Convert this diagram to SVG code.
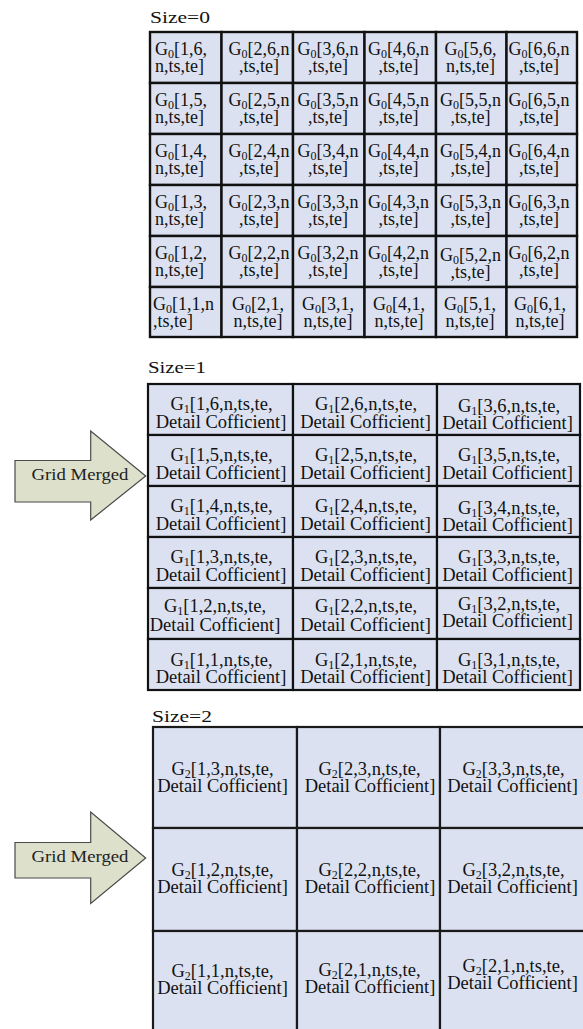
<svg xmlns="http://www.w3.org/2000/svg" width="583" height="1029" viewBox="0 0 583 1029">
  <style>
    .bg { fill: #ffffff; }
    .cell { fill: #dbe1f0; stroke: #111111; stroke-width: 2.4; }
    .cell1 { fill: #dbe1f0; stroke: #111111; stroke-width: 2.2; }
    .cell2 { fill: #dbe1f0; stroke: #1a1a1a; stroke-width: 2.2; }
    .t { font-family: "Liberation Serif", "Times New Roman", serif; font-size: 18px; fill: #111111; }
    .t1 { font-family: "Liberation Serif", "Times New Roman", serif; font-size: 18.5px; fill: #111111; text-anchor: middle; }
    .m { text-anchor: middle; }
    .sub { font-size: 12px; }
    .lbl { font-family: "Liberation Serif", "Times New Roman", serif; font-size: 17px; fill: #111111; }
    .arrow { fill: #dde0cb; stroke: #4a4a4a; stroke-width: 1.2; stroke-linejoin: miter; }
    .atxt { font-family: "Liberation Serif", "Times New Roman", serif; font-size: 16.5px; fill: #222222; }
  </style>
  <rect class="bg" x="0" y="0" width="583" height="1029"/>

  <!-- level 0 grid: 6 x 6 cells -->
  <text class="lbl" x="150" y="22.7" textLength="60" lengthAdjust="spacingAndGlyphs">Size=0</text>
  <g id="grid0">
    <g id="g0-r6">
      <rect class="cell" x="150" y="32" width="71.5" height="51"/>
      <rect class="cell" x="221.5" y="32" width="71.5" height="51"/>
      <rect class="cell" x="293" y="32" width="71.5" height="51"/>
      <rect class="cell" x="364.5" y="32" width="71.5" height="51"/>
      <rect class="cell" x="436" y="32" width="70.5" height="51"/>
      <rect class="cell" x="506.5" y="32" width="70.5" height="51"/>
      <text class="t" x="155" y="55">G<tspan class="sub" dy="3">0</tspan><tspan dy="-3">[1,6,</tspan><tspan x="155" dy="16.5">n,ts,te]</tspan></text>
      <text class="t m" x="259" y="55">G<tspan class="sub" dy="3">0</tspan><tspan dy="-3">[2,6,n</tspan><tspan x="259" dy="16.5">,ts,te]</tspan></text>
      <text class="t m" x="328" y="55">G<tspan class="sub" dy="3">0</tspan><tspan dy="-3">[3,6,n</tspan><tspan x="328" dy="16.5">,ts,te]</tspan></text>
      <text class="t m" x="398.5" y="55">G<tspan class="sub" dy="3">0</tspan><tspan dy="-3">[4,6,n</tspan><tspan x="398.5" dy="16.5">,ts,te]</tspan></text>
      <text class="t m" x="470.5" y="55">G<tspan class="sub" dy="3">0</tspan><tspan dy="-3">[5,6,</tspan><tspan x="470.5" dy="16.5">n,ts,te]</tspan></text>
      <text class="t m" x="539" y="55">G<tspan class="sub" dy="3">0</tspan><tspan dy="-3">[6,6,n</tspan><tspan x="539" dy="16.5">,ts,te]</tspan></text>
    </g>
    <g id="g0-r5">
      <rect class="cell" x="150" y="83" width="71.5" height="51"/>
      <rect class="cell" x="221.5" y="83" width="71.5" height="51"/>
      <rect class="cell" x="293" y="83" width="71.5" height="51"/>
      <rect class="cell" x="364.5" y="83" width="71.5" height="51"/>
      <rect class="cell" x="436" y="83" width="70.5" height="51"/>
      <rect class="cell" x="506.5" y="83" width="70.5" height="51"/>
      <text class="t" x="155" y="106">G<tspan class="sub" dy="3">0</tspan><tspan dy="-3">[1,5,</tspan><tspan x="155" dy="16.5">n,ts,te]</tspan></text>
      <text class="t m" x="259" y="106">G<tspan class="sub" dy="3">0</tspan><tspan dy="-3">[2,5,n</tspan><tspan x="259" dy="16.5">,ts,te]</tspan></text>
      <text class="t m" x="328" y="106">G<tspan class="sub" dy="3">0</tspan><tspan dy="-3">[3,5,n</tspan><tspan x="328" dy="16.5">,ts,te]</tspan></text>
      <text class="t m" x="398.5" y="106">G<tspan class="sub" dy="3">0</tspan><tspan dy="-3">[4,5,n</tspan><tspan x="398.5" dy="16.5">,ts,te]</tspan></text>
      <text class="t m" x="470.5" y="106">G<tspan class="sub" dy="3">0</tspan><tspan dy="-3">[5,5,n</tspan><tspan x="470.5" dy="16.5">,ts,te]</tspan></text>
      <text class="t m" x="539" y="106">G<tspan class="sub" dy="3">0</tspan><tspan dy="-3">[6,5,n</tspan><tspan x="539" dy="16.5">,ts,te]</tspan></text>
    </g>
    <g id="g0-r4">
      <rect class="cell" x="150" y="134" width="71.5" height="51"/>
      <rect class="cell" x="221.5" y="134" width="71.5" height="51"/>
      <rect class="cell" x="293" y="134" width="71.5" height="51"/>
      <rect class="cell" x="364.5" y="134" width="71.5" height="51"/>
      <rect class="cell" x="436" y="134" width="70.5" height="51"/>
      <rect class="cell" x="506.5" y="134" width="70.5" height="51"/>
      <text class="t" x="155" y="157">G<tspan class="sub" dy="3">0</tspan><tspan dy="-3">[1,4,</tspan><tspan x="155" dy="16.5">n,ts,te]</tspan></text>
      <text class="t m" x="259" y="157">G<tspan class="sub" dy="3">0</tspan><tspan dy="-3">[2,4,n</tspan><tspan x="259" dy="16.5">,ts,te]</tspan></text>
      <text class="t m" x="328" y="157">G<tspan class="sub" dy="3">0</tspan><tspan dy="-3">[3,4,n</tspan><tspan x="328" dy="16.5">,ts,te]</tspan></text>
      <text class="t m" x="398.5" y="157">G<tspan class="sub" dy="3">0</tspan><tspan dy="-3">[4,4,n</tspan><tspan x="398.5" dy="16.5">,ts,te]</tspan></text>
      <text class="t m" x="470.5" y="157">G<tspan class="sub" dy="3">0</tspan><tspan dy="-3">[5,4,n</tspan><tspan x="470.5" dy="16.5">,ts,te]</tspan></text>
      <text class="t m" x="539" y="157">G<tspan class="sub" dy="3">0</tspan><tspan dy="-3">[6,4,n</tspan><tspan x="539" dy="16.5">,ts,te]</tspan></text>
    </g>
    <g id="g0-r3">
      <rect class="cell" x="150" y="185" width="71.5" height="51"/>
      <rect class="cell" x="221.5" y="185" width="71.5" height="51"/>
      <rect class="cell" x="293" y="185" width="71.5" height="51"/>
      <rect class="cell" x="364.5" y="185" width="71.5" height="51"/>
      <rect class="cell" x="436" y="185" width="70.5" height="51"/>
      <rect class="cell" x="506.5" y="185" width="70.5" height="51"/>
      <text class="t" x="155" y="208">G<tspan class="sub" dy="3">0</tspan><tspan dy="-3">[1,3,</tspan><tspan x="155" dy="16.5">n,ts,te]</tspan></text>
      <text class="t m" x="259" y="208">G<tspan class="sub" dy="3">0</tspan><tspan dy="-3">[2,3,n</tspan><tspan x="259" dy="16.5">,ts,te]</tspan></text>
      <text class="t m" x="328" y="208">G<tspan class="sub" dy="3">0</tspan><tspan dy="-3">[3,3,n</tspan><tspan x="328" dy="16.5">,ts,te]</tspan></text>
      <text class="t m" x="398.5" y="208">G<tspan class="sub" dy="3">0</tspan><tspan dy="-3">[4,3,n</tspan><tspan x="398.5" dy="16.5">,ts,te]</tspan></text>
      <text class="t m" x="470.5" y="208">G<tspan class="sub" dy="3">0</tspan><tspan dy="-3">[5,3,n</tspan><tspan x="470.5" dy="16.5">,ts,te]</tspan></text>
      <text class="t m" x="539" y="208">G<tspan class="sub" dy="3">0</tspan><tspan dy="-3">[6,3,n</tspan><tspan x="539" dy="16.5">,ts,te]</tspan></text>
    </g>
    <g id="g0-r2">
      <rect class="cell" x="150" y="236" width="71.5" height="51"/>
      <rect class="cell" x="221.5" y="236" width="71.5" height="51"/>
      <rect class="cell" x="293" y="236" width="71.5" height="51"/>
      <rect class="cell" x="364.5" y="236" width="71.5" height="51"/>
      <rect class="cell" x="436" y="236" width="70.5" height="51"/>
      <rect class="cell" x="506.5" y="236" width="70.5" height="51"/>
      <text class="t" x="155" y="259">G<tspan class="sub" dy="3">0</tspan><tspan dy="-3">[1,2,</tspan><tspan x="155" dy="16.5">n,ts,te]</tspan></text>
      <text class="t m" x="259" y="259">G<tspan class="sub" dy="3">0</tspan><tspan dy="-3">[2,2,n</tspan><tspan x="259" dy="16.5">,ts,te]</tspan></text>
      <text class="t m" x="328" y="259">G<tspan class="sub" dy="3">0</tspan><tspan dy="-3">[3,2,n</tspan><tspan x="328" dy="16.5">,ts,te]</tspan></text>
      <text class="t m" x="398.5" y="259">G<tspan class="sub" dy="3">0</tspan><tspan dy="-3">[4,2,n</tspan><tspan x="398.5" dy="16.5">,ts,te]</tspan></text>
      <text class="t m" x="470.5" y="261">G<tspan class="sub" dy="3">0</tspan><tspan dy="-3">[5,2,n</tspan><tspan x="470.5" dy="16.5">,ts,te]</tspan></text>
      <text class="t m" x="539" y="259">G<tspan class="sub" dy="3">0</tspan><tspan dy="-3">[6,2,n</tspan><tspan x="539" dy="16.5">,ts,te]</tspan></text>
    </g>
    <g id="g0-r1">
      <rect class="cell" x="150" y="287" width="71.5" height="50"/>
      <rect class="cell" x="221.5" y="287" width="71.5" height="50"/>
      <rect class="cell" x="293" y="287" width="71.5" height="50"/>
      <rect class="cell" x="364.5" y="287" width="71.5" height="50"/>
      <rect class="cell" x="436" y="287" width="70.5" height="50"/>
      <rect class="cell" x="506.5" y="287" width="70.5" height="50"/>
      <text class="t" x="153" y="310">G<tspan class="sub" dy="3">0</tspan><tspan dy="-3">[1,1,n</tspan><tspan x="153" dy="16.5">,ts,te]</tspan></text>
      <text class="t m" x="258" y="310">G<tspan class="sub" dy="3">0</tspan><tspan dy="-3">[2,1,</tspan><tspan x="258" dy="16.5">n,ts,te]</tspan></text>
      <text class="t m" x="328" y="310">G<tspan class="sub" dy="3">0</tspan><tspan dy="-3">[3,1,</tspan><tspan x="328" dy="16.5">n,ts,te]</tspan></text>
      <text class="t m" x="399" y="310">G<tspan class="sub" dy="3">0</tspan><tspan dy="-3">[4,1,</tspan><tspan x="399" dy="16.5">n,ts,te]</tspan></text>
      <text class="t m" x="470" y="310">G<tspan class="sub" dy="3">0</tspan><tspan dy="-3">[5,1,</tspan><tspan x="470" dy="16.5">n,ts,te]</tspan></text>
      <text class="t m" x="540" y="310">G<tspan class="sub" dy="3">0</tspan><tspan dy="-3">[6,1,</tspan><tspan x="540" dy="16.5">n,ts,te]</tspan></text>
    </g>
  </g>

  <!-- merge arrows -->
  <g id="connectors">
    <g id="merge1">
      <path class="arrow" d="M15,460.5 H90.7 V431 L145.7,476 L90.7,520 V502 H15 Z"/>
      <text class="atxt" x="31.5" y="480" textLength="97" lengthAdjust="spacingAndGlyphs">Grid Merged</text>
    </g>
    <g id="merge2">
      <path class="arrow" d="M15,842.5 H90.7 V812 L145.7,858 L90.7,903.5 V878 H15 Z"/>
      <text class="atxt" x="31.5" y="862" textLength="97" lengthAdjust="spacingAndGlyphs">Grid Merged</text>
    </g>
  </g>

  <!-- level 1 grid: 3 x 6 cells -->
  <text class="lbl" x="148" y="373" textLength="58" lengthAdjust="spacingAndGlyphs">Size=1</text>
  <g id="grid1">
    <g id="g1-r6">
      <rect class="cell1" x="148" y="384" width="145" height="51"/>
      <rect class="cell1" x="293" y="384" width="144" height="51"/>
      <rect class="cell1" x="437" y="384" width="143" height="51"/>
      <text class="t1" x="221.5" y="410">G<tspan class="sub" dy="3">1</tspan><tspan dy="-3">[1,6,n,ts,te,</tspan><tspan x="221" dy="18">Detail Cofficient]</tspan></text>
      <text class="t1" x="366" y="410">G<tspan class="sub" dy="3">1</tspan><tspan dy="-3">[2,6,n,ts,te,</tspan><tspan x="365.5" dy="18">Detail Cofficient]</tspan></text>
      <text class="t1" x="509" y="412">G<tspan class="sub" dy="3">1</tspan><tspan dy="-3">[3,6,n,ts,te,</tspan><tspan x="507.5" dy="17">Detail Cofficient]</tspan></text>
    </g>
    <g id="g1-r5">
      <rect class="cell1" x="148" y="435" width="145" height="51"/>
      <rect class="cell1" x="293" y="435" width="144" height="51"/>
      <rect class="cell1" x="437" y="435" width="143" height="51"/>
      <text class="t1" x="221.5" y="461">G<tspan class="sub" dy="3">1</tspan><tspan dy="-3">[1,5,n,ts,te,</tspan><tspan x="221" dy="18">Detail Cofficient]</tspan></text>
      <text class="t1" x="366" y="461">G<tspan class="sub" dy="3">1</tspan><tspan dy="-3">[2,5,n,ts,te,</tspan><tspan x="365.5" dy="18">Detail Cofficient]</tspan></text>
      <text class="t1" x="509" y="461">G<tspan class="sub" dy="3">1</tspan><tspan dy="-3">[3,5,n,ts,te,</tspan><tspan x="507.5" dy="18">Detail Cofficient]</tspan></text>
    </g>
    <g id="g1-r4">
      <rect class="cell1" x="148" y="486" width="145" height="51"/>
      <rect class="cell1" x="293" y="486" width="144" height="51"/>
      <rect class="cell1" x="437" y="486" width="143" height="51"/>
      <text class="t1" x="221.5" y="512">G<tspan class="sub" dy="3">1</tspan><tspan dy="-3">[1,4,n,ts,te,</tspan><tspan x="221" dy="18">Detail Cofficient]</tspan></text>
      <text class="t1" x="366" y="512">G<tspan class="sub" dy="3">1</tspan><tspan dy="-3">[2,4,n,ts,te,</tspan><tspan x="365.5" dy="18">Detail Cofficient]</tspan></text>
      <text class="t1" x="509" y="514">G<tspan class="sub" dy="3">1</tspan><tspan dy="-3">[3,4,n,ts,te,</tspan><tspan x="507.5" dy="17">Detail Cofficient]</tspan></text>
    </g>
    <g id="g1-r3">
      <rect class="cell1" x="148" y="537" width="145" height="51"/>
      <rect class="cell1" x="293" y="537" width="144" height="51"/>
      <rect class="cell1" x="437" y="537" width="143" height="51"/>
      <text class="t1" x="221.5" y="563">G<tspan class="sub" dy="3">1</tspan><tspan dy="-3">[1,3,n,ts,te,</tspan><tspan x="221" dy="18">Detail Cofficient]</tspan></text>
      <text class="t1" x="366" y="563">G<tspan class="sub" dy="3">1</tspan><tspan dy="-3">[2,3,n,ts,te,</tspan><tspan x="365.5" dy="18">Detail Cofficient]</tspan></text>
      <text class="t1" x="509" y="563">G<tspan class="sub" dy="3">1</tspan><tspan dy="-3">[3,3,n,ts,te,</tspan><tspan x="507.5" dy="18">Detail Cofficient]</tspan></text>
    </g>
    <g id="g1-r2">
      <rect class="cell1" x="148" y="588" width="145" height="51"/>
      <rect class="cell1" x="293" y="588" width="144" height="51"/>
      <rect class="cell1" x="437" y="588" width="143" height="51"/>
      <text class="t1" x="215" y="612">G<tspan class="sub" dy="3">1</tspan><tspan dy="-3">[1,2,n,ts,te,</tspan><tspan x="215" dy="19">Detail Cofficient]</tspan></text>
      <text class="t1" x="366" y="612">G<tspan class="sub" dy="3">1</tspan><tspan dy="-3">[2,2,n,ts,te,</tspan><tspan x="365.5" dy="19">Detail Cofficient]</tspan></text>
      <text class="t1" x="509" y="610">G<tspan class="sub" dy="3">1</tspan><tspan dy="-3">[3,2,n,ts,te,</tspan><tspan x="507.5" dy="17">Detail Cofficient]</tspan></text>
    </g>
    <g id="g1-r1">
      <rect class="cell1" x="148" y="639" width="145" height="51"/>
      <rect class="cell1" x="293" y="639" width="144" height="51"/>
      <rect class="cell1" x="437" y="639" width="143" height="51"/>
      <text class="t1" x="221.5" y="665.5">G<tspan class="sub" dy="3">1</tspan><tspan dy="-3">[1,1,n,ts,te,</tspan><tspan x="221" dy="17.5">Detail Cofficient]</tspan></text>
      <text class="t1" x="366" y="665.5">G<tspan class="sub" dy="3">1</tspan><tspan dy="-3">[2,1,n,ts,te,</tspan><tspan x="365.5" dy="17.5">Detail Cofficient]</tspan></text>
      <text class="t1" x="509" y="665.5">G<tspan class="sub" dy="3">1</tspan><tspan dy="-3">[3,1,n,ts,te,</tspan><tspan x="507.5" dy="17.5">Detail Cofficient]</tspan></text>
    </g>
  </g>

  <!-- level 2 grid: 3 x 3 cells, running past the bottom and right edges -->
  <text class="lbl" x="152" y="721.7" textLength="60" lengthAdjust="spacingAndGlyphs">Size=2</text>
  <g id="grid2">
    <g id="g2-r3">
      <rect class="cell2" x="153" y="727" width="144" height="101"/>
      <rect class="cell2" x="297" y="727" width="143" height="101"/>
      <rect class="cell2" x="440" y="727" width="146" height="101"/>
      <text class="t1" x="222.5" y="775">G<tspan class="sub" dy="3">2</tspan><tspan dy="-3">[1,3,n,ts,te,</tspan><tspan x="222.5" dy="17">Detail Cofficient]</tspan></text>
      <text class="t1" x="369.5" y="775">G<tspan class="sub" dy="3">2</tspan><tspan dy="-3">[2,3,n,ts,te,</tspan><tspan x="370" dy="17">Detail Cofficient]</tspan></text>
      <text class="t1" x="513.5" y="775">G<tspan class="sub" dy="3">2</tspan><tspan dy="-3">[3,3,n,ts,te,</tspan><tspan x="512.5" dy="17">Detail Cofficient]</tspan></text>
    </g>
    <g id="g2-r2">
      <rect class="cell2" x="153" y="828" width="144" height="103"/>
      <rect class="cell2" x="297" y="828" width="143" height="103"/>
      <rect class="cell2" x="440" y="828" width="146" height="103"/>
      <text class="t1" x="222.5" y="876">G<tspan class="sub" dy="3">2</tspan><tspan dy="-3">[1,2,n,ts,te,</tspan><tspan x="222.5" dy="16.5">Detail Cofficient]</tspan></text>
      <text class="t1" x="369.5" y="876">G<tspan class="sub" dy="3">2</tspan><tspan dy="-3">[2,2,n,ts,te,</tspan><tspan x="370" dy="16.5">Detail Cofficient]</tspan></text>
      <text class="t1" x="513.5" y="876">G<tspan class="sub" dy="3">2</tspan><tspan dy="-3">[3,2,n,ts,te,</tspan><tspan x="512.5" dy="16.5">Detail Cofficient]</tspan></text>
    </g>
    <g id="g2-r1">
      <rect class="cell2" x="153" y="931" width="144" height="102"/>
      <rect class="cell2" x="297" y="931" width="143" height="102"/>
      <rect class="cell2" x="440" y="931" width="146" height="102"/>
      <text class="t1" x="222.5" y="977">G<tspan class="sub" dy="3">2</tspan><tspan dy="-3">[1,1,n,ts,te,</tspan><tspan x="222.5" dy="17">Detail Cofficient]</tspan></text>
      <text class="t1" x="369.5" y="976">G<tspan class="sub" dy="3">2</tspan><tspan dy="-3">[2,1,n,ts,te,</tspan><tspan x="370" dy="17">Detail Cofficient]</tspan></text>
      <text class="t1" x="513.5" y="972">G<tspan class="sub" dy="3">2</tspan><tspan dy="-3">[2,1,n,ts,te,</tspan><tspan x="512.5" dy="16.5">Detail Cofficient]</tspan></text>
    </g>
  </g>
</svg>
